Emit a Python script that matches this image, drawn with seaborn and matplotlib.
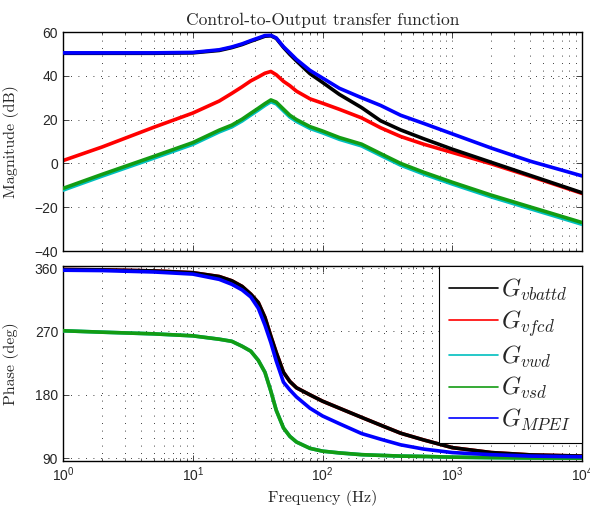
import numpy as np
import pandas as pd
import matplotlib
matplotlib.use("Agg")
import matplotlib.pyplot as plt
import seaborn as sns
from matplotlib.ticker import LogLocator, NullFormatter, FixedLocator

# ---- data (Hz, dB, deg) ----
freq = [1, 2, 5, 10, 16, 20, 24, 28, 32, 36, 40, 44, 50, 56, 63, 80, 100,
        135, 200, 280, 400, 600, 1000, 2000, 4000, 10000]

mag_vbattd = [50.3, 50.3, 50.3, 50.5, 51.6, 52.9, 54.3, 55.8, 57.0, 58.1, 58.3, 57.1, 53.0, 49.8, 46.8,
              41.0, 37.0, 31.5, 25.5, 19.5, 15.3, 11.3, 6.5, 0.5, -5.5, -13.4]
mag_vfcd = [1.3, 7.5, 16.5, 23.0, 28.5, 32.0, 35.0, 37.7, 39.5, 41.2, 42.0, 40.5, 37.5, 35.5, 33.0,
            29.5, 27.5, 24.7, 20.8, 16.3, 12.3, 8.8, 5.0, -0.2, -5.9, -13.7]
mag_vsd = [-11.4, -5.0, 3.2, 9.5, 15.2, 17.5, 20.2, 22.9, 25.2, 27.3, 29.0, 28.0, 24.8, 22.0, 20.0,
           16.8, 14.8, 11.8, 8.8, 4.5, 0.0, -4.0, -8.6, -14.5, -19.9, -27.0]
mag_vwd = [-12.2, -5.8, 2.4, 8.7, 14.4, 16.7, 19.4, 22.1, 24.4, 26.5, 28.2, 27.2, 24.0, 21.2, 19.2,
           16.0, 14.0, 11.0, 8.0, 3.7, -0.8, -4.8, -9.4, -15.3, -20.7, -27.8]
mag_mpei = [50.5, 50.5, 50.5, 50.7, 51.9, 53.2, 54.6, 56.1, 57.3, 58.4, 58.5, 57.3, 53.3, 50.5, 47.5,
            42.5, 39.0, 34.3, 30.0, 26.5, 22.0, 18.3, 13.5, 7.0, 1.0, -5.7]

ph_vbattd = [358, 357.5, 356, 353.5, 348, 342, 334, 323, 311, 290, 263, 240, 212, 199, 190,
             180, 171, 161, 148, 137, 125.5, 116, 105, 98, 94.7, 93]
ph_vfcd = ph_vbattd
ph_vsd = [271, 269, 266.6, 263.8, 259, 256, 249, 242, 229, 212, 185, 158, 133, 121, 113,
          104, 100, 97.5, 95, 94, 93, 92.5, 91.5, 90.8, 90.3, 90]
ph_vwd = ph_vsd
ph_mpei = [357, 356.5, 354.5, 351.5, 344, 337, 329, 319, 303, 279, 254, 228, 198, 187, 177,
           161, 150, 139, 125, 117, 109, 103, 98, 95, 93, 92]

names = ["$G_{vbattd}$", "$G_{vfcd}$", "$G_{vwd}$", "$G_{vsd}$", "$G_{MPEI}$"]
colors = ["#000000", "#ff0000", "#00bfbf", "#139c13", "#0000ff"]
mags = [mag_vbattd, mag_vfcd, mag_vwd, mag_vsd, mag_mpei]
phases = [ph_vbattd, ph_vfcd, ph_vwd, ph_vsd, ph_mpei]
zorders = [3, 2, 3.5, 4, 5]

sns.set_style("ticks")
plt.rcParams['font.family'] = ['Liberation Sans', 'DejaVu Sans']
plt.rcParams['mathtext.fontset'] = 'cm'

fig = plt.figure(figsize=(5.9, 5.17), dpi=100)
ax1 = fig.add_axes([0.1068, 0.5145, 0.8797, 0.4235])
ax2 = fig.add_axes([0.1068, 0.1083, 0.8797, 0.3772])

for name, c, m, p, z in zip(names, colors, mags, phases, zorders):
    df = pd.DataFrame({"f": freq, "mag": m, "phase": p})
    sns.lineplot(data=df, x="f", y="mag", ax=ax1, color=c, lw=2.6, zorder=z)
    sns.lineplot(data=df, x="f", y="phase", ax=ax2, color=c, lw=2.6, zorder=z, label=name)

grid_kw = dict(color="black", lw=0.6, linestyle=(0, (1, 8)))
for ax in (ax1, ax2):
    ax.set_xscale("log")
    ax.set_xlim(1, 1e4)
    ax.xaxis.set_major_locator(LogLocator(base=10, numticks=10))
    ax.xaxis.set_minor_locator(LogLocator(base=10, subs=np.arange(2, 10), numticks=10))
    ax.tick_params(which="both", direction="in", top=True, right=True, labelsize=10)
    ax.tick_params(which="major", length=4, width=0.6)
    ax.tick_params(which="minor", length=2, width=0.5)
    ax.grid(True, which="both", axis="x", **grid_kw)
    ax.grid(True, which="major", axis="y", **grid_kw)
    for s in ax.spines.values():
        s.set_linewidth(1.0)
        s.set_color("black")
    ax.set_axisbelow(True)

ax1.set_ylim(-40, 60)
ax1.yaxis.set_major_locator(FixedLocator([-40, -20, 0, 20, 40, 60]))
ax1.xaxis.set_major_formatter(NullFormatter())
ax1.set_xlabel("")
ax1.set_ylabel("Magnitude (dB)", fontfamily="cmr10", fontsize=11.5)
ax1.set_title("Control-to-Output transfer function", fontfamily="cmr10", fontsize=12.5, pad=5)

ax2.set_ylim(86, 363)
ax2.yaxis.set_major_locator(FixedLocator([90, 180, 270, 360]))
ax2.set_xlabel("Frequency (Hz)", fontfamily="cmr10", fontsize=11.5)
ax2.set_ylabel("Phase (deg)", fontfamily="cmr10", fontsize=11.5)
ax1.yaxis.set_label_coords(-0.085, 0.5)
ax2.yaxis.set_label_coords(-0.085, 0.5)

leg = ax2.legend(loc="upper right", borderaxespad=0, fontsize=17.5, handlelength=2.0,
                 handletextpad=0.14, labelspacing=0.21, borderpad=0.45,
                 fancybox=False, framealpha=1, edgecolor="black")
leg.get_frame().set_linewidth(0.8)
leg.set_zorder(10)
for h in leg.legend_handles:
    h.set_linewidth(1.2)

fig.savefig("out.png", dpi=100)
